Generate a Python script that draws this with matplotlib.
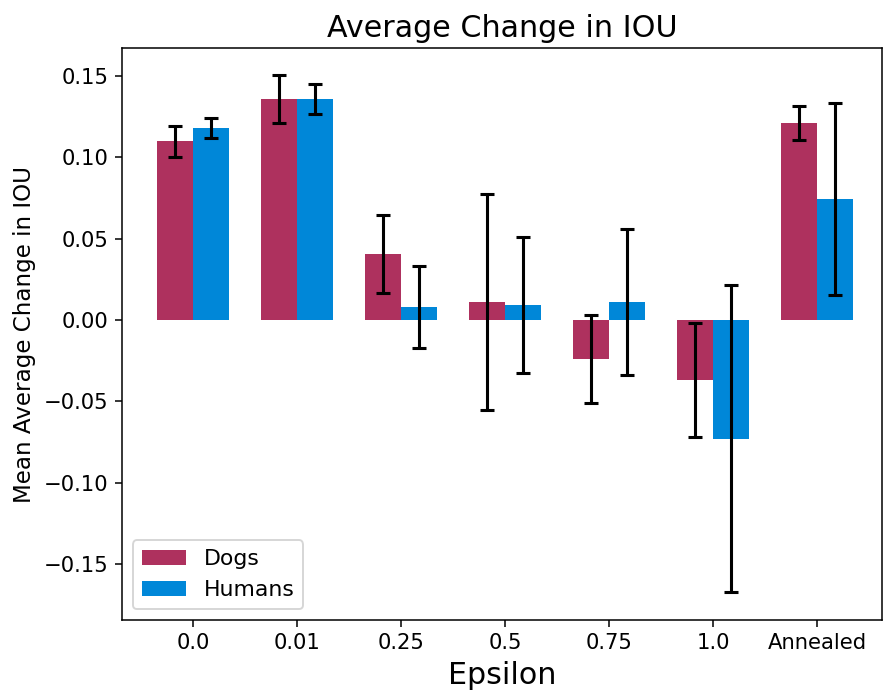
import matplotlib
matplotlib.use("Agg")
import matplotlib.pyplot as plt
import numpy as np

categories = ["0.0", "0.01", "0.25", "0.5", "0.75", "1.0", "Annealed"]
dogs = [0.110, 0.136, 0.0406, 0.0111, -0.024, -0.0367, 0.1212]
dogs_err = [0.0095, 0.0148, 0.0242, 0.0665, 0.0271, 0.035, 0.0103]
humans = [0.118, 0.136, 0.008, 0.0092, 0.0111, -0.0728, 0.0745]
humans_err = [0.006, 0.0092, 0.0252, 0.0418, 0.0446, 0.0945, 0.0592]

dog_color = "#ae315e"
human_color = "#0087d8"

x = np.arange(len(categories))
w = 0.35

fig = plt.figure(figsize=(884 / 138, 693 / 138), dpi=138)
ax = fig.add_axes([122 / 884, 1 - 620 / 693, 760 / 884, 572 / 693])

ax.bar(x - w / 2, dogs, w, color=dog_color, label="Dogs")
ax.bar(x + w / 2, humans, w, color=human_color, label="Humans")
ax.errorbar(x - w / 2, dogs, yerr=dogs_err, fmt="none", ecolor="black",
            elinewidth=1.6, capsize=3.4, capthick=1.6)
ax.errorbar(x + w / 2, humans, yerr=humans_err, fmt="none", ecolor="black",
            elinewidth=1.6, capsize=3.4, capthick=1.6)

ax.set_xticks(x)
ax.set_xticklabels(categories)
ax.set_xlim(-0.683, 6.625)
ax.set_ylim(-0.1843, 0.1672)
ax.set_yticks([-0.15, -0.10, -0.05, 0.00, 0.05, 0.10, 0.15])
ax.set_yticklabels(["\u22120.15", "\u22120.10", "\u22120.05", "0.00", "0.05", "0.10", "0.15"])
ax.tick_params(labelsize=11)

ax.set_title("Average Change in IOU", fontsize=15.7)
ax.set_xlabel("Epsilon", fontsize=15.7)
ax.set_ylabel("Mean Average Change in IOU", fontsize=12)
ax.legend(loc="lower left", fontsize=11.5)

fig.savefig("out.png", dpi=138)
